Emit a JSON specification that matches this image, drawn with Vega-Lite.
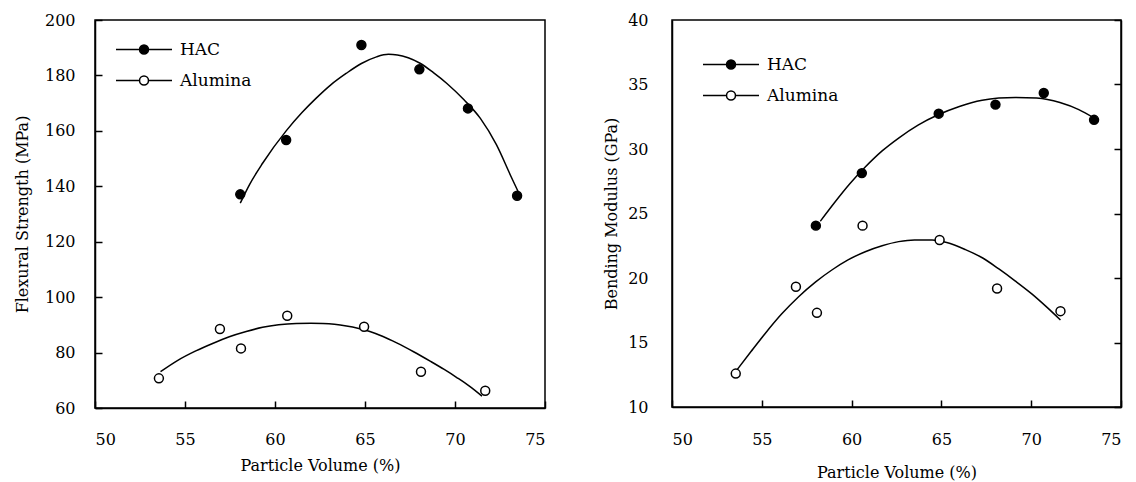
{
  "$schema": "https://vega.github.io/schema/vega-lite/v6.json",
  "background": "white",
  "padding": {"left": 13, "top": 11, "right": 2, "bottom": 0},
  "spacing": 55,
  "config": {
    "font": "DejaVu Serif",
    "view": {"stroke": "black", "strokeWidth": 1.5},
    "axis": {
      "grid": false,
      "zindex": 1,
      "domainColor": "black",
      "domainWidth": 1.5,
      "tickColor": "black",
      "tickWidth": 1.5,
      "tickSize": -7,
      "labelFont": "DejaVu Serif",
      "labelFontSize": 16,
      "labelColor": "black",
      "titleFont": "DejaVu Serif",
      "titleFontSize": 16,
      "titleFontWeight": "normal",
      "titleColor": "black"
    },
    "legend": {
      "orient": "none",
      "title": null,
      "padding": 0,
      "symbolType": "M-1,0H-0.16M0.16,0H1M-0.16,0A0.16,0.16,0,1,1,0.16,0A0.16,0.16,0,1,1,-0.16,0Z",
      "symbolSize": 3136,
      "symbolStrokeColor": "black",
      "symbolStrokeWidth": 1.5,
      "labelFont": "DejaVu Serif",
      "labelFontSize": 17,
      "labelColor": "black",
      "labelOffset": 7,
      "clipHeight": 31,
      "rowPadding": 0
    }
  },
  "resolve": {"legend": {"fill": "independent"}, "scale": {"y": "independent", "fill": "independent"}},
  "hconcat": [
    {
      "width": 450,
      "height": 388,
      "layer": [
        {
          "data": {"values": [
            {"series": "HAC", "x": 58.07, "y": 133.9},
            {"series": "HAC", "x": 58.6, "y": 140.8},
            {"series": "HAC", "x": 59.31, "y": 148.3},
            {"series": "HAC", "x": 60.62, "y": 160.0},
            {"series": "HAC", "x": 61.5, "y": 166.6},
            {"series": "HAC", "x": 62.29, "y": 171.8},
            {"series": "HAC", "x": 63.1, "y": 176.6},
            {"series": "HAC", "x": 63.97, "y": 180.8},
            {"series": "HAC", "x": 64.8, "y": 184.3},
            {"series": "HAC", "x": 65.64, "y": 186.7},
            {"series": "HAC", "x": 66.3, "y": 187.6},
            {"series": "HAC", "x": 66.8, "y": 187.4},
            {"series": "HAC", "x": 67.4, "y": 186.4},
            {"series": "HAC", "x": 68.06, "y": 184.4},
            {"series": "HAC", "x": 68.8, "y": 181.0},
            {"series": "HAC", "x": 69.55, "y": 177.1},
            {"series": "HAC", "x": 70.5, "y": 171.2},
            {"series": "HAC", "x": 71.41, "y": 164.5},
            {"series": "HAC", "x": 72.3, "y": 155.0},
            {"series": "HAC", "x": 73.08, "y": 144.0},
            {"series": "HAC", "x": 73.55, "y": 137.5},
            {"series": "Alumina", "x": 53.64, "y": 73.1},
            {"series": "Alumina", "x": 54.6, "y": 77.2},
            {"series": "Alumina", "x": 55.6, "y": 80.6},
            {"series": "Alumina", "x": 56.5, "y": 83.2},
            {"series": "Alumina", "x": 57.46, "y": 85.7},
            {"series": "Alumina", "x": 58.4, "y": 87.6},
            {"series": "Alumina", "x": 59.31, "y": 89.1},
            {"series": "Alumina", "x": 60.2, "y": 90.0},
            {"series": "Alumina", "x": 61.18, "y": 90.5},
            {"series": "Alumina", "x": 62.0, "y": 90.6},
            {"series": "Alumina", "x": 62.66, "y": 90.5},
            {"series": "Alumina", "x": 63.3, "y": 90.2},
            {"series": "Alumina", "x": 63.97, "y": 89.6},
            {"series": "Alumina", "x": 64.6, "y": 88.8},
            {"series": "Alumina", "x": 65.27, "y": 87.6},
            {"series": "Alumina", "x": 66.0, "y": 85.8},
            {"series": "Alumina", "x": 66.76, "y": 83.5},
            {"series": "Alumina", "x": 67.7, "y": 80.3},
            {"series": "Alumina", "x": 68.62, "y": 76.9},
            {"series": "Alumina", "x": 69.4, "y": 73.9},
            {"series": "Alumina", "x": 70.1, "y": 71.0},
            {"series": "Alumina", "x": 70.8, "y": 67.9},
            {"series": "Alumina", "x": 71.5, "y": 64.3}
          ]},
          "mark": {"type": "line", "color": "black", "strokeWidth": 1.5, "interpolate": "monotone"},
          "encoding": {
            "x": {"field": "x", "type": "quantitative", "scale": {"domain": [50, 75], "nice": false, "zero": false},
                  "axis": {"values": [50, 55, 60, 65, 70, 75], "labelPadding": 30, "title": "Particle Volume (%)", "titlePadding": 10}},
            "y": {"field": "y", "type": "quantitative", "scale": {"domain": [60, 200], "nice": false, "zero": false},
                  "axis": {"values": [60, 80, 100, 120, 140, 160, 180, 200], "labelPadding": 27, "title": "Flexural Strength (MPa)", "titlePadding": 14}},
            "detail": {"field": "series"}
          }
        },
        {
          "data": {"values": [
            {"series": "HAC", "x": 58.07, "y": 137.1},
            {"series": "HAC", "x": 60.62, "y": 156.7},
            {"series": "HAC", "x": 64.8, "y": 191.0},
            {"series": "HAC", "x": 68.02, "y": 182.2},
            {"series": "HAC", "x": 70.72, "y": 168.1},
            {"series": "HAC", "x": 73.45, "y": 136.6},
            {"series": "Alumina", "x": 53.55, "y": 70.7},
            {"series": "Alumina", "x": 56.94, "y": 88.5},
            {"series": "Alumina", "x": 58.11, "y": 81.5},
            {"series": "Alumina", "x": 60.68, "y": 93.3},
            {"series": "Alumina", "x": 64.95, "y": 89.3},
            {"series": "Alumina", "x": 68.11, "y": 73.1},
            {"series": "Alumina", "x": 71.68, "y": 66.2}
          ]},
          "mark": {"type": "point", "shape": "circle", "filled": true, "size": 80, "stroke": "black", "strokeWidth": 1.5, "opacity": 1},
          "encoding": {
            "x": {"field": "x", "type": "quantitative"},
            "y": {"field": "y", "type": "quantitative"},
            "fill": {"field": "series", "type": "nominal",
                     "scale": {"domain": ["HAC", "Alumina"], "range": ["black", "white"]},
                     "legend": {"legendX": 20, "legendY": 14}}
          }
        }
      ]
    },
    {
      "width": 449,
      "height": 387,
      "resolve": {"axis": {"y": "independent"}},
      "layer": [
        {
          "data": {"values": [
            {"series": "HAC", "x": 58.26, "y": 24.4},
            {"series": "HAC", "x": 59.0, "y": 25.75},
            {"series": "HAC", "x": 59.9, "y": 27.3},
            {"series": "HAC", "x": 60.76, "y": 28.6},
            {"series": "HAC", "x": 61.7, "y": 29.85},
            {"series": "HAC", "x": 62.62, "y": 30.85},
            {"series": "HAC", "x": 63.7, "y": 31.85},
            {"series": "HAC", "x": 64.85, "y": 32.67},
            {"series": "HAC", "x": 66.0, "y": 33.3},
            {"series": "HAC", "x": 67.27, "y": 33.78},
            {"series": "HAC", "x": 68.2, "y": 33.95},
            {"series": "HAC", "x": 69.12, "y": 34.0},
            {"series": "HAC", "x": 70.3, "y": 33.95},
            {"series": "HAC", "x": 71.6, "y": 33.6},
            {"series": "HAC", "x": 72.65, "y": 33.05},
            {"series": "HAC", "x": 73.5, "y": 32.4},
            {"series": "Alumina", "x": 53.6, "y": 12.85},
            {"series": "Alumina", "x": 54.4, "y": 14.3},
            {"series": "Alumina", "x": 55.19, "y": 15.7},
            {"series": "Alumina", "x": 56.1, "y": 17.2},
            {"series": "Alumina", "x": 57.05, "y": 18.55},
            {"series": "Alumina", "x": 58.0, "y": 19.7},
            {"series": "Alumina", "x": 58.9, "y": 20.62},
            {"series": "Alumina", "x": 59.8, "y": 21.4},
            {"series": "Alumina", "x": 60.76, "y": 22.04},
            {"series": "Alumina", "x": 61.7, "y": 22.5},
            {"series": "Alumina", "x": 62.62, "y": 22.82},
            {"series": "Alumina", "x": 63.5, "y": 22.95},
            {"series": "Alumina", "x": 64.48, "y": 22.95},
            {"series": "Alumina", "x": 65.3, "y": 22.75},
            {"series": "Alumina", "x": 66.34, "y": 22.2},
            {"series": "Alumina", "x": 67.3, "y": 21.55},
            {"series": "Alumina", "x": 68.2, "y": 20.7},
            {"series": "Alumina", "x": 69.1, "y": 19.78},
            {"series": "Alumina", "x": 70.05, "y": 18.75},
            {"series": "Alumina", "x": 70.9, "y": 17.7},
            {"series": "Alumina", "x": 71.63, "y": 16.74}
          ]},
          "mark": {"type": "line", "color": "black", "strokeWidth": 1.5, "interpolate": "monotone"},
          "encoding": {
            "x": {"field": "x", "type": "quantitative", "scale": {"domain": [50, 75], "nice": false, "zero": false},
                  "axis": {"values": [50, 55, 60, 65, 70, 75], "labelPadding": 31, "title": "Particle Volume (%)", "titlePadding": 17}},
            "y": {"field": "y", "type": "quantitative", "scale": {"domain": [10, 40], "nice": false, "zero": false},
                  "axis": {"values": [10, 15, 20, 25, 30, 35, 40], "ticks": false, "labelPadding": 24, "title": "Bending Modulus (GPa)", "titlePadding": 8}},
            "detail": {"field": "series"}
          }
        },
        {
          "data": {"values": [
            {"series": "HAC", "x": 58.01, "y": 24.06},
            {"series": "HAC", "x": 60.57, "y": 28.13},
            {"series": "HAC", "x": 64.85, "y": 32.74},
            {"series": "HAC", "x": 68.01, "y": 33.44},
            {"series": "HAC", "x": 70.7, "y": 34.34},
            {"series": "HAC", "x": 73.5, "y": 32.26},
            {"series": "Alumina", "x": 53.55, "y": 12.59},
            {"series": "Alumina", "x": 56.9, "y": 19.32},
            {"series": "Alumina", "x": 58.07, "y": 17.3},
            {"series": "Alumina", "x": 60.61, "y": 24.06},
            {"series": "Alumina", "x": 64.9, "y": 22.95},
            {"series": "Alumina", "x": 68.1, "y": 19.19},
            {"series": "Alumina", "x": 71.63, "y": 17.43}
          ]},
          "mark": {"type": "point", "shape": "circle", "filled": true, "size": 80, "stroke": "black", "strokeWidth": 1.5, "opacity": 1},
          "encoding": {
            "x": {"field": "x", "type": "quantitative"},
            "y": {"field": "y", "type": "quantitative",
                  "axis": {"orient": "right", "values": [10, 15, 20, 25, 30, 35, 40], "labels": false, "title": null, "tickSize": -7}},
            "fill": {"field": "series", "type": "nominal",
                     "scale": {"domain": ["HAC", "Alumina"], "range": ["black", "white"]},
                     "legend": {"legendX": 30, "legendY": 29}}
          }
        }
      ]
    }
  ]
}
